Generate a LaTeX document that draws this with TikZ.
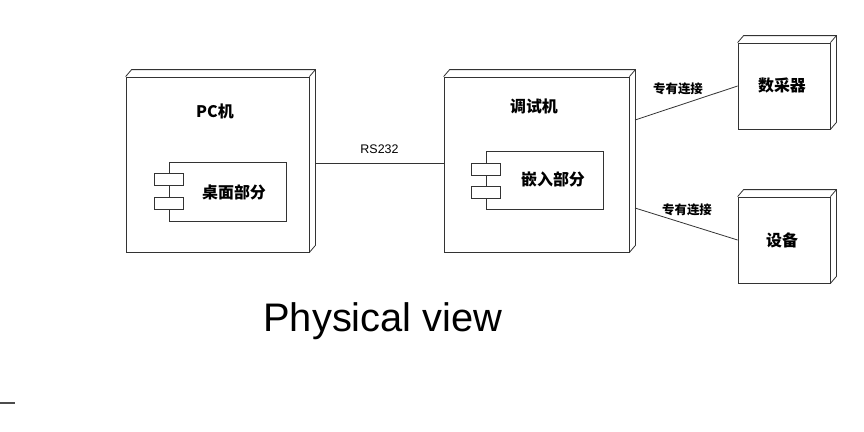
\documentclass[tikz,border=0pt]{standalone}
\usepackage{fontspec}
\setmainfont{Liberation Sans}
\newfontfamily\cjk{Noto Sans CJK SC}
\usetikzlibrary{positioning,calc}

\begin{document}
\begin{tikzpicture}[x=1bp, y=-1bp,
  box/.style={draw=black!80, line width=0.8bp, inner sep=0pt},
  nodebox/.style={box, minimum width=#1, minimum height=175bp},
  devbox/.style={box, minimum width=92bp, minimum height=86bp},
  comp/.style={box, minimum width=117bp, minimum height=#1},
  tab/.style={box, fill=white, minimum width=29bp, minimum height=12bp},
  ttl/.style={font=\cjk\bfseries\fontsize{16}{19}\selectfont},
  small/.style={font=\cjk\bfseries\fontsize{12.5}{14}\selectfont},
  link/.style={draw=black!80, line width=0.8bp}]
  \useasboundingbox (0,0) rectangle (864,431);
  % nodes (front faces)
  \node[nodebox=183bp] (pc) at (217.5,164.5) {};
  \node[nodebox=185bp] (dbg) at (536.5,164.5) {};
  \node[devbox] (daq) at (784,86) {};
  \node[devbox] (dev) at (784,240) {};
  % depth of the boxes
  \foreach \n in {pc,dbg,daq,dev}{
    \draw[box] (\n.north west) -- ++(6,-7) -| ($(\n.south east)+(6,-7)$) -- (\n.south east);
    \draw[box] (\n.north east) -- ++(6,-7);}
  % titles
  \node[ttl] (pct) at (215,111) {PC机};
  \node[ttl] (dbgt) at (534,106) {调试机};
  \node[ttl] (daqt) at (782,85) {数采器};
  \node[ttl] (devt) at (782,240) {设备};
  % components
  \node[comp=59bp] (desk) at (227.5,191.5) {};
  \node[comp=58bp] (emb) at (545,180) {};
  \foreach \c/\dy in {desk/-12,desk/11.5,emb/-10.5,emb/12.5}
    \node[tab] at ($(\c.west)+(0,\dy)$) {};
  \node[ttl] at (234,192) {桌面部分};
  \node[ttl] at (553,179) {嵌入部分};
  % links
  \coordinate (pcr) at ($(pc.east)+(6,-1.5)$);
  \coordinate (dbgr1) at (635,120);
  \coordinate (dbgr2) at (635,208);
  \draw[link] (pcr) -- node[above=6bp, font=\fontsize{12.5}{14}\selectfont]{RS232} (dbg.west |- pcr);
  \draw[link] (dbgr1) -- (daq.west);
  \draw[link] (dbgr2) -- (dev.west);
  \node[small] (l1) at (678,89) {专有连接};
  \node[small] (l2) at (687,210) {专有连接};
  % caption
  \node[font=\fontsize{40}{48}\selectfont] (cap) at (383,321) {Physical view};
  \coordinate (m0) at (0,403);
  \coordinate (m1) at (15,403);
  \draw[black!70, line width=1.5bp] (m0) -- (m1);
\end{tikzpicture}
\end{document}
